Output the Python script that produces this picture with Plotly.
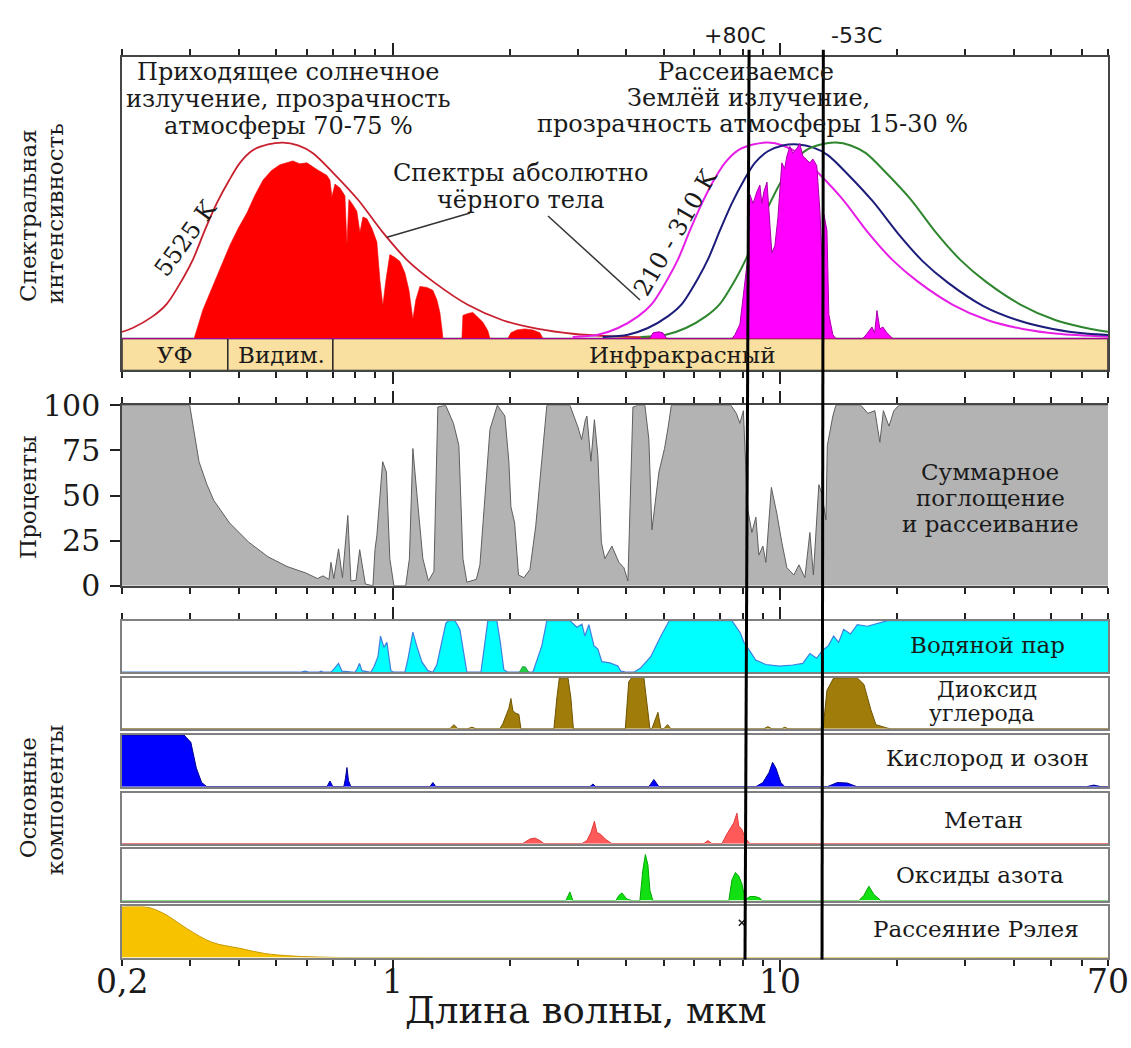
import math
import plotly.graph_objects as go

W, H = 1131, 1048
SERIF = "DejaVu Serif"
SANS = "DejaVu Sans"

# ---------------- common wavelength axis (µm, logarithmic) ----------------
x_min_um, x_max_um = 0.2, 70
major_tick_um = [1, 10]
minor_tick_um = [0.2, 0.3, 0.4, 0.5, 0.6, 0.7, 0.8, 0.9,
                 2, 3, 4, 5, 6, 7, 8, 9, 20, 30, 40, 50, 60, 70]
x_label_um = [0.2, 1, 10, 70]
x_label_text = ["0,2", "1", "10", "70"]

# ---------------- spectral intensity panel (relative units) ----------------
bb_5525_um = [0.2, 0.213, 0.240, 0.261, 0.287, 0.305, 0.327, 0.351, 0.378, 0.403,
              0.435, 0.476, 0.520, 0.569, 0.622, 0.700, 0.812, 0.942, 1.09, 1.27,
              1.56, 1.92, 2.37, 2.91, 3.70, 4.97]
bb_5525_val = [3.5, 5.5, 11.5, 18, 31, 41, 56, 70, 82, 91,
               97.5, 100.5, 101.5, 100, 96, 86, 72, 55, 40.5, 29.5,
               17.5, 9.5, 5, 2.5, 1.2, 0.5]

bb_310_um = [2.91, 3.38, 3.81, 4.29, 4.66, 5.12, 5.44, 5.84, 6.27, 6.73,
             7.19, 7.77, 8.49, 9.28, 10.14, 11.09, 12.49, 14.49, 16.81, 19.50,
             22.62, 27.85, 34.29, 42.21, 51.96, 70]
bb_310_val = [0.8, 2, 5.5, 11.5, 18, 31, 41, 56, 70, 82,
              91, 97.5, 100.5, 101.5, 100, 96, 86, 72, 55, 40.5,
              29.5, 17.5, 9.5, 5, 2.5, 1.0]

bb_260_um = [3.48, 4.04, 4.55, 5.12, 5.57, 6.12, 6.50, 6.98, 7.49, 8.05,
             8.59, 9.28, 10.14, 11.09, 12.12, 13.25, 14.93, 17.32, 20.09, 23.30,
             27.03, 33.28, 40.98, 50.44, 62.09, 70]
bb_260_val = [0.8, 2, 5.5, 11.5, 18, 31, 41, 56, 70, 82,
              91, 97, 100, 100.5, 99, 95, 85, 71, 54.5, 40,
              29, 17, 9.5, 5, 2.5, 1.9]

bb_210_um = [4.36, 5.06, 5.70, 6.42, 6.98, 7.67, 8.14, 8.74, 9.39, 10.08,
             10.77, 11.63, 12.71, 13.90, 15.18, 16.61, 18.70, 21.70, 25.17, 29.20,
             33.87, 41.71, 51.35, 63.21, 70]
bb_210_val = [0.8, 2, 5.5, 11.5, 18, 31, 41, 56, 70, 82,
              91, 97.5, 100.5, 101.5, 100, 96, 86, 72, 55, 40.5,
              29.5, 17.5, 9.5, 5, 3.6]

# solar radiation reaching the ground
sun_um = [0.2, 0.300, 0.307, 0.3235, 0.343, 0.362, 0.380, 0.400, 0.420, 0.440,
          0.462, 0.486, 0.511, 0.552, 0.575, 0.600, 0.620, 0.637, 0.676, 0.688,
          0.696, 0.709, 0.730, 0.752, 0.761, 0.770, 0.784, 0.807, 0.822, 0.837,
          0.857, 0.883, 0.909, 0.926, 0.942, 0.959, 0.982, 1.012, 1.042, 1.074,
          1.100, 1.126, 1.146, 1.174, 1.224, 1.268, 1.299, 1.322, 1.338, 1.346,
          1.507, 1.516, 1.561, 1.608, 1.657, 1.707, 1.758, 1.780, 1.980, 2.016,
          2.089, 2.191, 2.297, 2.395, 2.438, 70]
sun_val = [0, 0, 0, 15, 27, 39, 48.5, 57.5, 65, 74,
           82, 87, 90, 92, 90.5, 91, 89, 87.5, 84.5, 82,
           73.5, 80, 78, 74, 48.5, 72, 70, 66, 55, 63,
           62, 57, 50, 30, 17, 30, 43.5, 42, 40, 34,
           25, 10, 20, 27, 26.5, 25, 20, 13.5, 5, 0,
           0, 12, 13, 13.5, 11, 8.5, 4, 0, 0, 3,
           4.5, 5, 4.5, 3, 0, 0]

# thermal radiation of the Earth leaving the atmosphere
earth_um = [0.2, 4.55, 4.60, 4.69, 4.85, 4.97, 5.09, 7.50, 7.63, 7.86,
            8.09, 8.24, 8.34, 8.50, 8.69, 8.85, 8.95, 9.06, 9.23, 9.39,
            9.50, 9.67, 9.85, 10.08, 10.25, 10.39, 10.57, 10.76, 11.02, 11.22,
            11.42, 11.70, 11.91, 12.12, 12.41, 12.64, 12.79, 12.94, 13.18, 13.33,
            13.65, 13.90, 16.31, 16.71, 17.22, 17.50, 17.74, 18.05, 18.38, 18.82,
            19.50, 19.97, 70]
earth_val = [0, 0, 0, 3, 3.5, 3, 0, 0, 2, 7.5,
             31, 42.5, 74.5, 70, 76, 79.5, 70, 76, 81, 56,
             44.5, 48, 62.5, 91, 88, 94.5, 99.5, 96, 98.5, 101,
             94.5, 92.5, 91, 93, 89.5, 66, 42.5, 64.5, 56, 12.5,
             2, 0, 0, 2.5, 6, 3, 14.5, 5, 6, 3,
             0, 0, 0]

# spectral regions drawn as a strip under the spectra
region_names = ["УФ", "Видим.", "Инфракрасный"]
region_edges_um = [0.2, 0.375, 0.70, 70]

# ---------------- total absorption and scattering, % ----------------
abs_um = [0.2, 0.299, 0.316, 0.331, 0.345, 0.379, 0.425, 0.476, 0.533, 0.596,
          0.639, 0.660, 0.684, 0.692, 0.704, 0.724, 0.741, 0.765, 0.779, 0.803,
          0.821, 0.849, 0.888, 0.899, 0.909, 0.941, 0.962, 0.982, 1.006, 1.079,
          1.103, 1.126, 1.153, 1.195, 1.235, 1.276, 1.306, 1.368, 1.433, 1.480,
          1.516, 1.552, 1.642, 1.677, 1.780, 1.860, 1.945, 1.992, 2.016, 2.061,
          2.109, 2.178, 2.257, 2.336, 2.496, 2.862, 3.001, 3.068, 3.138, 3.167,
          3.243, 3.311, 3.380, 3.451, 3.524, 3.673, 3.829, 3.945, 4.040, 4.162,
          4.287, 4.469, 4.576, 4.659, 4.857, 5.021, 5.123, 5.231, 7.448, 7.695,
          7.858, 8.023, 8.191, 8.240, 8.438, 8.641, 8.797, 9.008, 9.170, 9.474,
          9.788, 10.08, 10.39, 10.83, 11.16, 11.56, 11.91, 12.16, 12.56, 12.79,
          13.10, 13.21, 13.65, 13.90, 16.12, 16.81, 17.52, 18.05, 18.43, 19.05,
          19.62, 20.21, 70]
abs_val = [100, 100, 68.75, 56.25, 47.3, 34.8, 24.1, 16.1, 10.7, 7.1,
           4, 5.5, 3.5, 13, 4, 20.5, 4.5, 39, 2.7, 3,
           20, 1, 0, 20, 27.7, 68.75, 63, 15, 0, 0,
           15, 76, 51, 15, 2.7, 8, 99, 100, 90, 77.7,
           15, 2, 3.6, 11.6, 86.6, 100, 94, 68.75, 43.75, 34.8,
           6, 4.5, 9, 33, 100, 100, 88, 81, 92, 94,
           69, 92, 72, 24, 15, 22, 13, 10, 2.7, 99,
           100, 100, 81, 31, 63, 76, 87, 100, 100, 95.5,
           90, 97, 51, 42, 29.5, 38, 17, 22, 13, 54.5,
           40, 24, 10, 6, 11.6, 4.5, 29.5, 6, 56, 51,
           36.6, 77.7, 94, 100, 100, 95.5, 97, 79.5, 97, 88.4,
           97, 100, 100]

# ---------------- individual absorbers, % ----------------
h2o_um = [0.2, 0.576, 0.593, 0.611, 0.644, 0.652, 0.664, 0.692, 0.704, 0.724,
          0.739, 0.798, 0.807, 0.820, 0.832, 0.877, 0.893, 0.915, 0.929, 0.948,
          0.965, 0.988, 1.006, 1.074, 1.093, 1.126, 1.153, 1.188, 1.231, 1.268,
          1.299, 1.338, 1.370, 1.395, 1.445, 1.489, 1.534, 1.552, 1.687, 1.717,
          1.758, 1.854, 1.893, 1.933, 1.980, 2.297, 2.352, 2.423, 2.496, 2.862,
          2.983, 3.074, 3.129, 3.204, 3.301, 3.380, 3.461, 3.629, 3.806, 3.874,
          4.016, 4.187, 4.354, 4.626, 4.914, 5.167, 7.492, 7.649, 7.880, 8.047,
          8.143, 8.374, 8.630, 9.170, 9.935, 10.76, 11.42, 11.91, 12.40, 12.83,
          13.30, 13.71, 14.13, 14.56, 15.16, 15.78, 16.76, 17.81, 18.91, 70]
h2o_val = [0, 0, 2, 0, 0, 2, 0, 0, 6, 17,
           2, 0, 5, 17, 3, 0, 10, 30, 70, 48,
           58, 3, 0, 0, 25, 77.6, 50, 20, 3, 0,
           15, 60, 95, 100, 100, 83, 27, 0, 0, 45,
           100, 100, 58, 5, 0, 0, 25, 51.5, 100, 100,
           87, 93, 70, 92, 51.5, 45, 20.5, 18, 12, 2,
           0, 0, 8, 30, 70, 100, 100, 89, 76, 58,
           51.5, 39, 23.6, 15, 12, 14, 17, 36, 27, 42,
           51.5, 70, 58, 83, 74, 92, 89, 95, 100, 100]
h2o_n2o_um = [2.12, 2.16, 2.20, 2.24]
h2o_n2o_val = [0, 11, 10, 0]

co2_um = [0.2, 1.403, 1.437, 1.471, 1.561, 1.599, 1.637, 1.888, 1.922, 1.968,
          1.992, 2.016, 2.040, 2.077, 2.114, 2.139, 2.603, 2.649, 2.689, 2.746,
          2.779, 2.829, 2.879, 2.922, 3.978, 4.060, 4.137, 4.442, 4.533, 4.604,
          4.659, 4.828, 4.914, 5.003, 5.113, 5.214, 9.063, 9.279, 9.502, 10.08,
          10.26, 10.45, 12.64, 12.90, 13.18, 13.71, 15.74, 16.41, 17.11, 17.63,
          18.71, 19.16, 70]
co2_val = [0, 0, 8, 0, 0, 3, 0, 0, 10, 30,
           40, 59, 35, 30, 28, 0, 0, 60, 100, 97,
           100, 100, 60, 0, 0, 92, 100, 100, 49, 0,
           0, 32, 0, 0, 8, 0, 0, 4, 0, 0,
           3, 0, 0, 5, 75, 99, 100, 87, 37, 8,
           2, 0, 0]

o2_o3_um = [0.2, 0.289, 0.301, 0.311, 0.321, 0.331, 0.676, 0.688, 0.700, 0.747,
            0.754, 0.761, 0.768, 0.779, 1.246, 1.268, 1.291, 3.224, 3.281, 3.340,
            4.576, 4.714, 4.857, 8.641, 9.008, 9.335, 9.542, 9.730, 10.02, 10.26,
            13.21, 14.02, 14.87, 15.74, 61.72, 64.34, 67.09, 70]
o2_o3_val = [100, 100, 86, 36, 8, 0, 0, 11, 0, 0,
             15, 37, 12, 0, 0, 8, 0, 0, 5, 0,
             0, 14, 0, 0, 8, 27, 47, 36, 8, 0,
             0, 8, 7, 0, 0, 3, 0, 0]

ch4_um = [0.2, 2.164, 2.204, 2.257, 2.325, 2.395, 2.453, 3.074, 3.167, 3.243,
          3.311, 3.360, 3.441, 3.544, 3.673, 6.345, 6.497, 6.653, 7.062, 7.276,
          7.577, 7.721, 7.803, 7.952, 8.124, 8.337, 70]
ch4_val = [0, 0, 4, 9, 11, 6, 0, 0, 6, 22,
           44, 22, 18, 8, 0, 0, 6, 0, 0, 19,
           41, 60, 35, 28, 10, 0, 0]

nox_um = [0.2, 2.795, 2.862, 2.913, 3.761, 3.829, 3.898, 4.016, 4.137, 4.338,
          4.416, 4.482, 4.549, 4.604, 4.686, 7.358, 7.492, 7.649, 7.803, 7.952,
          8.094, 8.191, 8.337, 8.590, 8.850, 8.954, 15.93, 16.41, 16.91, 17.42,
          18.16, 70]
nox_val = [0, 0, 17, 0, 0, 10, 15, 3, 0, 0,
           60, 90, 70, 20, 0, 0, 40, 55, 48, 33,
           5, 4, 8, 8, 5, 0, 0, 10, 28, 12,
           0, 0]

rayleigh_um = [0.2, 0.230, 0.255, 0.295, 0.341, 0.403, 0.467, 0.552, 0.680, 0.786, 70]
rayleigh_val = [99, 99, 87, 56, 30, 18, 8, 3, 0.6, 0, 0]
rayleigh_mark_um = [7.95]
rayleigh_mark_val = [68]

# Wien peaks for +80 °C and -53 °C, marked across all panels
peak_line_top_um = [8.3, 12.9]
peak_line_bottom_um = [8.1, 12.8]
peak_line_labels = ["+80C", "-53C"]

# ---------------- layout geometry (pixels) ----------------
X_LEFT, X_RIGHT = 122, 1108
TOP_PANEL = (40, 365)            # spectra + region strip
PCT_PANEL = (401, 588)
COMPONENT_PANELS = [(624, 677.5), (683, 736), (742.5, 796),
                    (802.5, 855), (861, 914), (920, 973)]
TOP_Y_RANGE = [-16.5, 146]       # 0 is the top of the region strip


def px(x):
    return x / W


def py(y):
    return 1 - y / H


def dom(pair):
    return [py(pair[1]), py(pair[0])]


fig = go.Figure()


def area(x, y, fill, line, xa, ya, width=1.0, shape="linear"):
    fig.add_trace(go.Scatter(
        x=x, y=y, mode="lines", fill="tozeroy", fillcolor=fill,
        line=dict(color=line, width=width, shape=shape),
        xaxis=xa, yaxis=ya, hoverinfo="skip", showlegend=False))


def curve(x, y, color, xa, ya, width=2.0):
    fig.add_trace(go.Scatter(
        x=x, y=y, mode="lines", line=dict(color=color, width=width, shape="spline", smoothing=0.8),
        xaxis=xa, yaxis=ya, hoverinfo="skip", showlegend=False))


# spectra: blackbody curves under the filled spectra
curve(bb_5525_um, bb_5525_val, "#C8202E", "x", "y", 1.8)
curve(bb_310_um, bb_310_val, "#E61EE6", "x", "y", 2.0)
curve(bb_260_um, bb_260_val, "#1C1C7A", "x", "y", 2.0)
curve(bb_210_um, bb_210_val, "#2E862E", "x", "y", 2.0)
area(sun_um, sun_val, "#FF0000", "#F00000", "x", "y", 0.6)
area(earth_um, earth_val, "#FF00FF", "#A800A8", "x", "y", 1.0)

# total absorption
area(abs_um, abs_val, "#B3B3B3", "#5E5E5E", "x2", "y2", 1.0)

# components
area(h2o_um, h2o_val, "#00FFFF", "#3F7FE0", "x3", "y3", 1.2)
area(h2o_n2o_um, h2o_n2o_val, "#22CC44", "#119933", "x3", "y3", 0.8)
area(co2_um, co2_val, "#A07C0A", "#6E5400", "x4", "y4", 1.0)
area(o2_o3_um, o2_o3_val, "#0000FF", "#000090", "x5", "y5", 1.0)
area(ch4_um, ch4_val, "#FF5A5A", "#E03A3A", "x6", "y6", 1.0)
area(nox_um, nox_val, "#12E012", "#00A800", "x7", "y7", 1.0)
area(rayleigh_um, rayleigh_val, "#F7C300", "#C79A00", "x8", "y8", 1.0, "spline")
fig.add_trace(go.Scatter(
    x=rayleigh_mark_um, y=rayleigh_mark_val, mode="markers",
    marker=dict(symbol="x-thin", size=6, line=dict(color="#111", width=1.4)),
    xaxis="x8", yaxis="y8", hoverinfo="skip", showlegend=False))

# ---------------- axes ----------------
x_range = [math.log10(x_min_um), math.log10(x_max_um)]
tick_style = dict(tickmode="array", tickvals=major_tick_um, ticks="outside",
                  ticklen=12, tickwidth=1.5, tickcolor="#222")
minor_style = dict(tickmode="array", tickvals=minor_tick_um, ticks="outside",
                   ticklen=6, tickwidth=1.5, tickcolor="#222")


def xaxis(anchor, with_ticks, side="bottom", mirror=True, color="#808080", lw=2.0):
    d = dict(type="log", range=x_range, domain=[px(X_LEFT), px(X_RIGHT)],
             anchor=anchor, side=side, showgrid=False, zeroline=False,
             showticklabels=False, showline=True, linecolor=color,
             linewidth=lw, mirror=mirror, fixedrange=True)
    if anchor != "y":
        d["matches"] = "x"
    if with_ticks:
        d.update(tick_style)
        d["minor"] = minor_style
    else:
        d["ticks"] = ""
    return d


def yaxis(domain, rng, color="#808080", lw=2.0, mirror=True):
    return dict(domain=domain, range=rng, showgrid=False, zeroline=False,
                showticklabels=False, ticks="", showline=True, linecolor=color,
                linewidth=lw, mirror=mirror, fixedrange=True)


layout = dict(
    width=W, height=H, autosize=False,
    margin=dict(l=0, r=0, t=0, b=0, pad=0),
    paper_bgcolor="white", plot_bgcolor="white",
    showlegend=False,
    font=dict(family=SERIF, color="#1a1a1a"),
)
layout["xaxis"] = xaxis("y", True, side="top", mirror="ticks", color="#454545", lw=1.5)
layout["yaxis"] = yaxis(dom(TOP_PANEL), TOP_Y_RANGE, color="#454545", lw=1.5)
layout["xaxis2"] = xaxis("y2", True, side="top", mirror="ticks", color="#454545", lw=1.5)
y2 = yaxis(dom(PCT_PANEL), [0, 100], color="#454545", lw=1.5, mirror=False)
y2.update(showticklabels=True, ticks="outside", ticklen=10, tickwidth=1.5,
          tickcolor="#222", tickmode="array", tickvals=[0, 25, 50, 75, 100],
          tickfont=dict(family=SERIF, size=30, color="#1a1a1a"), ticklabelstandoff=4)
layout["yaxis2"] = y2

for i, pan in enumerate(COMPONENT_PANELS):
    n = i + 3
    if n == 3:
        xa = xaxis("y3", True, side="top")
    elif n == 8:
        xa = xaxis("y8", True, side="bottom")
    else:
        xa = xaxis(f"y{n}", False)
    layout[f"xaxis{n}"] = xa
    layout[f"yaxis{n}"] = yaxis(dom(pan), [0, 100])

fig.update_layout(**layout)

# ---------------- region strip (УФ / Видим. / Инфракрасный) ----------------
# shape x positions on a log axis are given in data units (µm)
shapes = []
for i in range(len(region_names)):
    shapes.append(dict(
        type="rect", xref="x", yref="y", layer="below",
        x0=region_edges_um[i], x1=region_edges_um[i + 1],
        y0=TOP_Y_RANGE[0], y1=0,
        fillcolor="#FAE0A0", line=dict(color="#2a2a2a", width=1.5)))

# Wien peak markers
for top_um, bot_um in zip(peak_line_top_um, peak_line_bottom_um):
    shapes.append(dict(
        type="line", xref="x", yref="paper",
        x0=top_um, x1=bot_um,
        y0=py(33), y1=py(975), line=dict(color="#000", width=3)))

# leader lines of the blackbody caption
for (x0, y0, x1, y1) in [(387, 227, 470, 202), (548, 205, 640, 292)]:
    shapes.append(dict(type="line", xref="paper", yref="paper",
                       x0=px(x0), y0=py(y0), x1=px(x1), y1=py(y1),
                       line=dict(color="#333", width=1.5)))
fig.update_layout(shapes=shapes)

# ---------------- text ----------------
ann = []


def text(t, x, y, size, angle=0, family=SERIF, color="#1a1a1a"):
    ann.append(dict(text=t, x=px(x), y=py(y), xref="paper", yref="paper",
                    xanchor="center", yanchor="middle", showarrow=False,
                    textangle=angle, font=dict(family=family, size=size, color=color)))


text("Приходящее солнечное", 288, 56, 24)
text("излучение, прозрачность", 288, 84, 24)
text("атмосферы 70-75 %", 288, 112, 24)
text("Рассеиваемсе", 746, 56, 24)
text("Землёй излучение,", 748, 83, 24)
text("прозрачность атмосферы 15-30 %", 752, 110, 24)
text("Спектры абсолютно", 520, 161, 24)
text("чёрного тела", 521, 188, 24)
text("5525 K", 186, 228, 24, angle=-54)
text("210 - 310 K", 676, 222, 24, angle=-60)

# labels of the region strip, centred in their strip cells
strip_label_px = [175, 281, 682]
for name, cx in zip(region_names, strip_label_px):
    text(name, cx, 349, 23)

text("Суммарное", 990, 470, 23)
text("поглощение", 990, 497, 23)
text("и рассеивание", 990, 524, 23)

text("Водяной пар", 987, 649, 23)
text("Диоксид", 987, 695, 22)
text("углерода", 982, 720, 22)
text("Кислород и озон", 987, 766, 23)
text("Метан", 983, 831, 23)
text("Оксиды азота", 980, 887, 23)
text("Рассеяние Рэлея", 976, 943, 23)

text("Спектральная", 28, 205, 23, angle=-90)
text("интенсивность", 55, 203, 23, angle=-90)
text("Проценты", 28, 497, 23, angle=-90)
text("Основные", 28, 808, 23, angle=-90)
text("компоненты", 55, 810, 23, angle=-90)

for lab, cx in zip(peak_line_labels, [735, 857]):
    text(lab, cx, 18, 22, family=SANS)

for v, t in zip(x_label_um, x_label_text):
    ann.append(dict(text=t, x=math.log10(v), y=py(998), xref="x8", yref="paper",
                    xanchor="center", yanchor="middle", showarrow=False,
                    font=dict(family=SERIF, size=33, color="#1a1a1a")))

text("Длина волны, мкм", 586, 1028, 37)

fig.update_layout(annotations=ann)

fig.write_html("out.html")
